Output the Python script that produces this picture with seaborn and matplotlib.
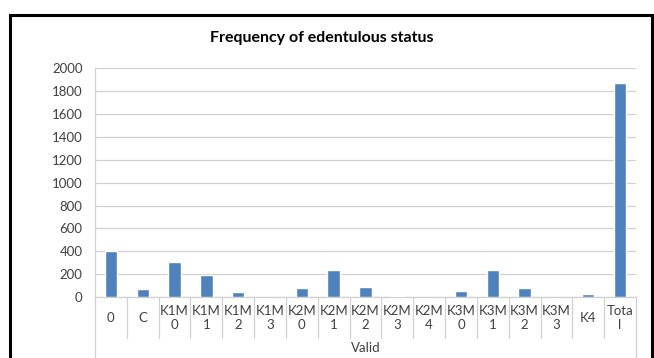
import matplotlib
matplotlib.use("Agg")
import matplotlib.pyplot as plt
import seaborn as sns
import pandas as pd
from matplotlib.lines import Line2D
from matplotlib.patches import Rectangle

categories = ["0", "C", "K1M0", "K1M1", "K1M2", "K1M3", "K2M0", "K2M1", "K2M2",
              "K2M3", "K2M4", "K3M0", "K3M1", "K3M2", "K3M3", "K4", "Total"]
tick_labels = ["0", "C", "K1M\n0", "K1M\n1", "K1M\n2", "K1M\n3", "K2M\n0", "K2M\n1",
               "K2M\n2", "K2M\n3", "K2M\n4", "K3M\n0", "K3M\n1", "K3M\n2", "K3M\n3",
               "K4", "Tota\nl"]
frequency = [399, 67, 303, 191, 41, 0, 75, 232, 89, 11, 0, 54, 232, 79, 0, 25, 1868]
y_ticks = list(range(0, 2001, 200))
title = "Frequency of edentulous status"
group_label = "Valid"

sns.set_theme(style="white")
plt.rcParams["font.family"] = ["Lato", "DejaVu Sans"]

df = pd.DataFrame({"status": categories, "freq": frequency})

W, H = 654, 358
fig = plt.figure(figsize=(W / 100, H / 100), dpi=100)
fig.patch.set_facecolor("white")

ax_left, ax_right, ax_bottom, ax_top = 95, 636, 297, 68.3
ax = fig.add_axes([ax_left / W, 1 - ax_bottom / H, (ax_right - ax_left) / W, (ax_bottom - ax_top) / H])

sns.barplot(data=df, x="status", y="freq", color="#4F81BD", saturation=1, width=0.39, ax=ax, zorder=3)

grid_c = "#d0d0d0"
ax.set_ylim(0, 2000)
ax.set_xlim(-0.5, len(categories) - 0.5)
ax.set_yticks(y_ticks)
ax.set_yticklabels([str(v) for v in y_ticks], fontsize=9.5, color="#404040")
ax.yaxis.grid(True, color=grid_c, linewidth=0.9, zorder=0)
ax.set_axisbelow(True)
ax.set_xlabel("")
ax.set_ylabel("")
for s in ["top", "right"]:
    ax.spines[s].set_visible(False)
ax.spines["left"].set_color(grid_c)
ax.spines["bottom"].set_color(grid_c)
ax.spines["left"].set_linewidth(0.9)
ax.spines["bottom"].set_linewidth(0.9)
ax.tick_params(axis="y", length=0, pad=9)

ax.set_xticks(range(len(categories)))
ax.set_xticklabels(tick_labels, fontsize=9.5, color="#404040", linespacing=1.2)
ax.tick_params(axis="x", length=0, pad=15)
for lab in ax.get_xticklabels():
    lab.set_verticalalignment("center")

ax_h = ax_bottom - ax_top
trans = ax.get_xaxis_transform()
cell_bottom = -(338 - ax_bottom) / ax_h
fig_bottom = -(H - ax_bottom) / ax_h
for i in range(1, len(categories)):
    ax.add_line(Line2D([i - 0.5, i - 0.5], [0, cell_bottom], transform=trans,
                       color=grid_c, linewidth=0.9, clip_on=False))
for xb in (-0.5, len(categories) - 0.5):
    ax.add_line(Line2D([xb, xb], [0, fig_bottom], transform=trans,
                       color=grid_c, linewidth=0.9, clip_on=False))

ax.text((len(categories) - 1) / 2, -(348 - ax_bottom) / ax_h, group_label, transform=trans,
        ha="center", va="center", fontsize=9.5, color="#404040")

fig.text(322 / W, 1 - 38 / H, title, ha="center", va="center", fontsize=11.5,
         fontweight="bold", color="#000000")

fig.add_artist(Rectangle((9.5 / W, -0.05), (652 - 9.5) / W, 1 - 15 / H + 0.05,
                         transform=fig.transFigure, fill=False, edgecolor="black",
                         linewidth=2.2))

fig.savefig("out.png", dpi=100)
